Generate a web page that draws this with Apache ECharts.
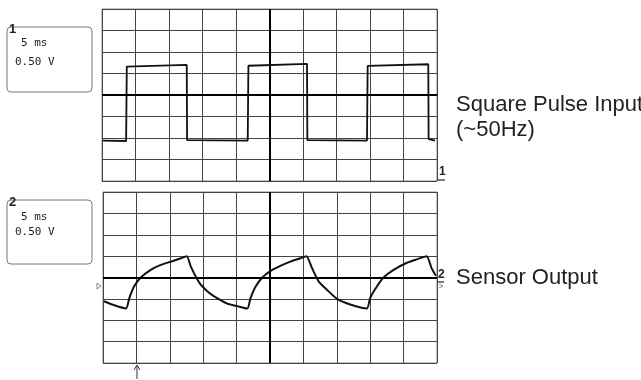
<!DOCTYPE html>
<html>
<head>
<meta charset="utf-8">
<script src="https://cdn.jsdelivr.net/npm/echarts@6/dist/echarts.min.js"></script>
<style>
  html, body { margin: 0; padding: 0; background: #fff; }
  #chart { width: 641px; height: 380px; }
</style>
</head>
<body>
<div id="chart"></div>
<script>
// time in divisions (5 ms / div), voltage in divisions (0.50 V / div)
const squareTime = [0.03, 0.72, 0.74, 2.53, 2.54, 4.35, 4.37, 6.12, 6.13, 7.91, 7.93, 9.74, 9.75, 9.94];
const squareVolt = [-2.12, -2.14, 1.32, 1.40, -2.1, -2.12, 1.36, 1.45, -2.1, -2.12, 1.35, 1.43, -2.05, -2.12];

const sensorTime = [0.03, 0.34, 0.69, 0.79, 0.93, 1.13, 1.43, 1.73, 2.03, 2.33, 2.51,
  2.63, 2.83, 2.93, 3.13, 3.33, 3.72, 4.02, 4.32,
  4.42, 4.57, 4.77, 5.01, 5.31, 5.61, 5.91, 6.09,
  6.26, 6.46, 6.71, 7.01, 7.40, 7.90,
  8.0, 8.2, 8.4, 8.7, 9.1, 9.39, 9.69, 9.84, 9.97];
const sensorVolt = [-1.11, -1.3, -1.45, -0.95, -0.42, 0, 0.36, 0.59, 0.74, 0.9, 1.0,
  0.51, -0.11, -0.34, -0.65, -0.88, -1.22, -1.34, -1.45,
  -0.95, -0.42, 0, 0.3, 0.54, 0.74, 0.9, 1.0,
  0.43, -0.19, -0.58, -1.0, -1.26, -1.45,
  -0.95, -0.42, 0, 0.36, 0.69, 0.85, 1.0, 0.43, 0.08];

const zip = (xs, ys) => xs.map((x, i) => [x, ys[i]]);

const chart = echarts.init(document.getElementById('chart'));

const gridLine = { show: true, lineStyle: { color: '#444', width: 1 } };
function xAx(i) {
  return {
    gridIndex: i, type: 'value', min: 0, max: 10, interval: 1,
    axisLine: { show: false }, axisTick: { show: false }, axisLabel: { show: false },
    splitLine: gridLine
  };
}
function yAx(i) {
  return {
    gridIndex: i, type: 'value', min: -4, max: 4, interval: 1,
    axisLine: { show: false }, axisTick: { show: false }, axisLabel: { show: false },
    splitLine: gridLine
  };
}
const centre = {
  silent: true, symbol: 'none', label: { show: false },
  lineStyle: { color: '#000', width: 2, type: 'solid' },
  data: [{ xAxis: 5 }, { yAxis: 0 }]
};

function label(x, y, text, font) {
  return { type: 'text', x: x, y: y, style: { text: text, font: font, fill: '#222', textVerticalAlign: 'middle' } };
}

chart.setOption({
  animation: false,
  grid: [
    { left: 102, top: 9, width: 335, height: 172, show: true, borderColor: '#888', borderWidth: 1 },
    { left: 103, top: 192, width: 334, height: 171, show: true, borderColor: '#888', borderWidth: 1 }
  ],
  xAxis: [xAx(0), xAx(1)],
  yAxis: [yAx(0), yAx(1)],
  series: [
    {
      type: 'line', xAxisIndex: 0, yAxisIndex: 0, data: zip(squareTime, squareVolt),
      showSymbol: false, lineStyle: { color: '#111', width: 1.8 }, markLine: centre
    },
    {
      type: 'line', xAxisIndex: 1, yAxisIndex: 1, data: zip(sensorTime, sensorVolt),
      showSymbol: false, smooth: 0.2, lineStyle: { color: '#111', width: 2 }, markLine: centre
    }
  ],
  graphic: [
    { type: 'rect', shape: { x: 7, y: 27, width: 85, height: 65, r: 4 }, style: { fill: 'none', stroke: '#777', lineWidth: 1 } },
    { type: 'rect', shape: { x: 7, y: 200, width: 85, height: 64, r: 4 }, style: { fill: 'none', stroke: '#777', lineWidth: 1 } },
    label(9, 29, '1', 'bold 13px "Liberation Sans"'),
    label(21, 43, '5 ms', '11px "DejaVu Sans Mono"'),
    label(15, 62, '0.50 V', '11px "DejaVu Sans Mono"'),
    label(9, 202, '2', 'bold 13px "Liberation Sans"'),
    label(21, 217, '5 ms', '11px "DejaVu Sans Mono"'),
    label(15, 232, '0.50 V', '11px "DejaVu Sans Mono"'),
    label(439, 172, '1', 'bold 12px "Liberation Sans"'),
    { type: 'line', shape: { x1: 437, y1: 180, x2: 445, y2: 180 }, style: { stroke: '#000', lineWidth: 1 } },
    label(438, 275, '2', 'bold 12px "Liberation Sans"'),
    { type: 'line', shape: { x1: 437, y1: 282, x2: 444, y2: 282 }, style: { stroke: '#000', lineWidth: 1 } },
    { type: 'polyline', shape: { points: [[439, 284], [443, 286], [439, 288]] }, style: { fill: 'none', stroke: '#888', lineWidth: 1 } },
    { type: 'polyline', shape: { points: [[97, 283], [101, 286], [97, 289], [97, 283]] }, style: { fill: 'none', stroke: '#888', lineWidth: 1 } },
    { type: 'line', shape: { x1: 137, y1: 366, x2: 137, y2: 379 }, style: { stroke: '#333', lineWidth: 1 } },
    { type: 'polyline', shape: { points: [[134, 370], [137, 365], [140, 370]] }, style: { fill: 'none', stroke: '#333', lineWidth: 1 } },
    label(456, 105, 'Square Pulse Input', '22px "Liberation Sans"'),
    label(456, 130, '(~50Hz)', '22px "Liberation Sans"'),
    label(456, 278, 'Sensor Output', '22px "Liberation Sans"')
  ]
});
</script>
</body>
</html>
